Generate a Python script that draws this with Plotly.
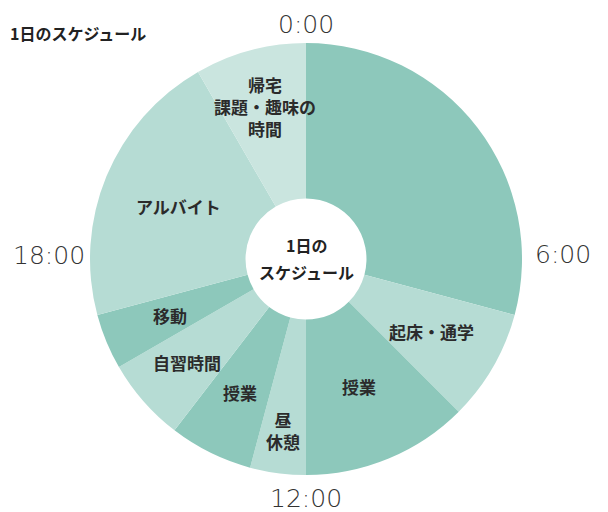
import math
import plotly.graph_objects as go

# 1日のスケジュール (hours, starting at 0:00, clockwise)
labels = ["睡眠", "起床・通学", "授業", "昼休憩", "授業", "自習時間", "移動", "アルバイト", "帰宅・課題・趣味の時間"]
hours = [7, 2, 3, 1, 1.5, 1.5, 1, 5, 2]
slice_text = ["", "起床・通学", "授業", "昼<br>休憩", "授業", "自習時間", "移動", "アルバイト", "帰宅<br>課題・趣味の<br>時間"]
colors = ["#8dc8bb", "#b6dcd4", "#8dc8bb", "#b6dcd4", "#8dc8bb", "#b6dcd4", "#8dc8bb", "#b6dcd4", "#cae5df"]
clock_ticks = [0, 6, 12, 18]

# label distance from the centre, as a share of the outer radius
label_r = [0.0, 0.67, 0.64, 0.80, 0.69, 0.73, 0.68, 0.64, 0.73]

# the page body adds an 8px margin, so the figure is a bit smaller than the window
W, H = 600, 504
cx, cy, R = 298, 251, 216

fig = go.Figure(go.Pie(
    labels=[f"{i}_{l}" for i, l in enumerate(labels)],
    values=hours,
    textinfo="none",
    sort=False,
    direction="clockwise",
    rotation=0,
    hole=0.28,
    marker=dict(colors=colors, line=dict(width=0)),
    domain=dict(x=[(cx - R) / W, (cx + R) / W], y=[(H - cy - R) / H, (H - cy + R) / H]),
    showlegend=False,
    hoverinfo="skip",
))

label_font = dict(family="Noto Sans CJK JP", size=17, color="#2b2b2b", weight="bold")


def to_paper(px, py):
    return px / W, 1 - py / H


annotations = []

# slice labels at the middle angle of each slice
start = 0.0
for t, v, rf in zip(slice_text, hours, label_r):
    mid = start + v / 2
    start += v
    if not t:
        continue
    a = math.radians(mid / 24 * 360)
    x, y = to_paper(cx + rf * R * math.sin(a), cy - rf * R * math.cos(a))
    annotations.append(dict(x=x, y=y, xref="paper", yref="paper", xanchor="center", yanchor="middle",
                            text=t, showarrow=False, font=label_font))

# clock labels around the pie
for h in clock_ticks:
    a = math.radians(h / 24 * 360)
    off = 237 if h in (0, 12) else 257
    x, y = to_paper(cx + off * math.sin(a), cy - off * math.cos(a) - (6 if h in (6, 18) else 0) + 2)
    annotations.append(dict(
        x=x, y=y, xref="paper", yref="paper", xanchor="center", yanchor="middle",
        text=f"{h}:00", showarrow=False,
        font=dict(family="DejaVu Sans", size=25, color="#333333", weight=200),
    ))

x, y = to_paper(0, 25)
annotations.append(dict(
    x=x, y=y, xref="paper", yref="paper", xanchor="left", yanchor="middle",
    text="1日のスケジュール", showarrow=False,
    font=dict(family="Noto Sans CJK JP", size=16, color="#222222", weight="bold"),
))

# centre text
for t, dy in [("1日の", -14), ("スケジュール", 13)]:
    x, y = to_paper(cx, cy + dy)
    annotations.append(dict(
        x=x, y=y, xref="paper", yref="paper", xanchor="center", yanchor="middle",
        text=t, showarrow=False,
        font=dict(family="Noto Sans CJK JP", size=16, color="#222222", weight="bold"),
    ))

fig.update_layout(
    width=W, height=H,
    margin=dict(l=0, r=0, t=0, b=0),
    paper_bgcolor="white",
    plot_bgcolor="white",
    annotations=annotations,
)

fig.write_html("out.html")
